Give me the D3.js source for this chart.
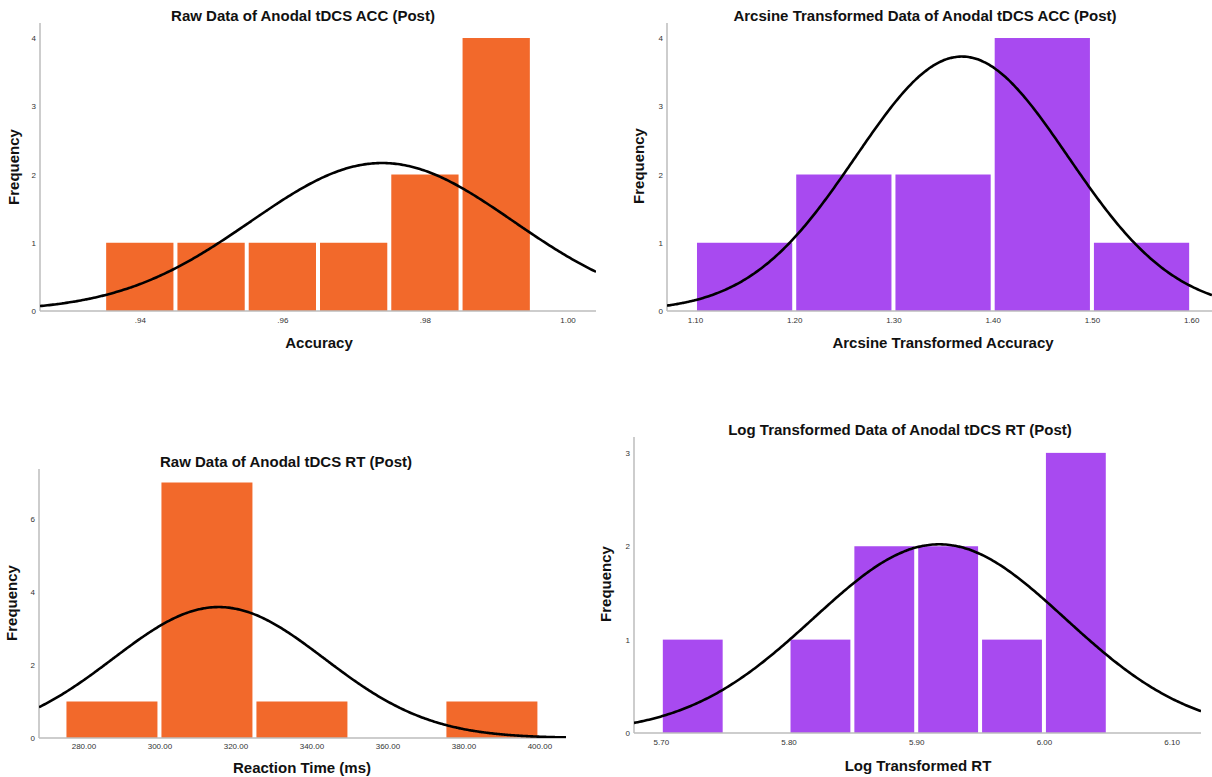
<!DOCTYPE html>
<html>
<head>
<meta charset="utf-8">
<script src="https://cdn.jsdelivr.net/npm/d3@7"></script>
<style>
  html, body { margin: 0; padding: 0; background: #fff; }
  svg { display: block; font-family: "Liberation Sans", Arial, sans-serif; }
</style>
</head>
<body>
<svg id="chart" width="1212" height="777"></svg>
<script>
// ---- Data: Anodal tDCS post-test histograms ----

// Raw accuracy
const accRawEdges = [0.935, 0.945, 0.955, 0.965, 0.975, 0.985, 0.995];
const accRawCounts = [1, 1, 1, 1, 2, 4];
const accRawTicks = [0.94, 0.96, 0.98, 1.00];
const accRawTickLabels = [".94", ".96", ".98", "1.00"];
const accRawFreqTicks = [0, 1, 2, 3, 4];
const accRawFit = [0.974, 0.0184, 10];   // mean, sd, n

// Arcsine transformed accuracy
const accArcEdges = [1.10, 1.20, 1.30, 1.40, 1.50, 1.60];
const accArcCounts = [1, 2, 2, 4, 1];
const accArcTicks = [1.10, 1.20, 1.30, 1.40, 1.50, 1.60];
const accArcTickLabels = ["1.10", "1.20", "1.30", "1.40", "1.50", "1.60"];
const accArcFreqTicks = [0, 1, 2, 3, 4];
const accArcFit = [1.369, 0.107, 10];

// Raw reaction time
const rtRawEdges = [275, 300, 325, 350, 375, 400];
const rtRawCounts = [1, 7, 1, 0, 1];
const rtRawTicks = [280, 300, 320, 340, 360, 380, 400];
const rtRawTickLabels = ["280.00", "300.00", "320.00", "340.00", "360.00", "380.00", "400.00"];
const rtRawFreqTicks = [0, 2, 4, 6];
const rtRawFit = [315.6, 27.8, 10];

// Log transformed reaction time
const rtLogEdges = [5.70, 5.75, 5.80, 5.85, 5.90, 5.95, 6.00, 6.05];
const rtLogCounts = [1, 0, 1, 2, 2, 1, 3];
const rtLogTicks = [5.70, 5.80, 5.90, 6.00, 6.10];
const rtLogTickLabels = ["5.70", "5.80", "5.90", "6.00", "6.10"];
const rtLogFreqTicks = [0, 1, 2, 3];
const rtLogFit = [5.918, 0.0987, 10];

const titles = [
  "Raw Data of Anodal tDCS ACC (Post)",
  "Arcsine Transformed Data of Anodal tDCS ACC (Post)",
  "Raw Data of Anodal tDCS RT (Post)",
  "Log Transformed Data of Anodal tDCS RT (Post)"
];
const xTitles = ["Accuracy", "Arcsine Transformed Accuracy", "Reaction Time (ms)", "Log Transformed RT"];
const yTitle = "Frequency";

// ---- Styling ----
const ORANGE = "#f2692b";
const PURPLE = "#a84af0";
const AXIS = "#bdbdbd";

// ---- Panel layout (pixel frame + visible value window) ----
const panels = [
  { edges: accRawEdges, counts: accRawCounts, ticks: accRawTicks, tickLabels: accRawTickLabels,
    yTicks: accRawFreqTicks, fit: accRawFit, color: ORANGE, title: titles[0], xTitle: xTitles[0],
    xDom: [0.926, 1.004], yDom: [0, 4.22], left: 40, right: 596, top: 23, bottom: 311,
    titleX: 303, titleY: 21, xTitleX: 319, xTitleY: 348, yTitleX: 19, yTitleY: 167, xTickY: 323 },
  { edges: accArcEdges, counts: accArcCounts, ticks: accArcTicks, tickLabels: accArcTickLabels,
    yTicks: accArcFreqTicks, fit: accArcFit, color: PURPLE, title: titles[1], xTitle: xTitles[1],
    xDom: [1.0718, 1.621], yDom: [0, 4.22], left: 667, right: 1212, top: 23, bottom: 311,
    titleX: 925, titleY: 21, xTitleX: 943, xTitleY: 348, yTitleX: 644, yTitleY: 166, xTickY: 323 },
  { edges: rtRawEdges, counts: rtRawCounts, ticks: rtRawTicks, tickLabels: rtRawTickLabels,
    yTicks: rtRawFreqTicks, fit: rtRawFit, color: ORANGE, title: titles[2], xTitle: xTitles[2],
    xDom: [268.3, 407], yDom: [0, 7.37], left: 39, right: 566, top: 469, bottom: 738,
    titleX: 286, titleY: 467, xTitleX: 302, xTitleY: 773, yTitleX: 17, yTitleY: 603, xTickY: 749 },
  { edges: rtLogEdges, counts: rtLogCounts, ticks: rtLogTicks, tickLabels: rtLogTickLabels,
    yTicks: rtLogFreqTicks, fit: rtLogFit, color: PURPLE, title: titles[3], xTitle: xTitles[3],
    xDom: [5.679, 6.123], yDom: [0, 3.17], left: 634, right: 1201, top: 437, bottom: 733,
    titleX: 900, titleY: 435, xTitleX: 918, xTitleY: 771, yTitleX: 611, yTitleY: 584, xTickY: 745 }
];

const svg = d3.select("#chart");

function normalFreq(x, fit, binWidth) {
  const [mu, sd, n] = fit;
  const z = (x - mu) / sd;
  return n * binWidth * Math.exp(-0.5 * z * z) / (sd * Math.sqrt(2 * Math.PI));
}

panels.forEach((p, i) => {
  const g = svg.append("g");
  const x = d3.scaleLinear().domain(p.xDom).range([p.left, p.right]);
  const y = d3.scaleLinear().domain(p.yDom).range([p.bottom, p.top]);

  const bins = p.counts.map((c, k) => ({ x0: p.edges[k], x1: p.edges[k + 1], count: c }));
  const binWidth = p.edges[1] - p.edges[0];

  // clip for curve
  const clipId = "clip" + i;
  svg.append("clipPath").attr("id", clipId)
    .append("rect").attr("x", p.left).attr("y", p.top)
    .attr("width", p.right - p.left).attr("height", p.bottom - p.top);

  // bars
  g.selectAll("rect.bar").data(bins.filter(b => b.count > 0)).enter()
    .append("rect").attr("class", "bar")
    .attr("x", d => x(d.x0) + 2)
    .attr("width", d => x(d.x1) - x(d.x0) - 4)
    .attr("y", d => y(d.count))
    .attr("height", d => y(0) - y(d.count))
    .attr("fill", p.color);

  // axes
  const xAxis = d3.axisBottom(x).tickValues(p.ticks)
    .tickFormat((d, k) => p.tickLabels[k]).tickSize(0).tickPadding(0);
  const xa = g.append("g").attr("transform", `translate(0,${p.bottom})`).call(xAxis);
  xa.select(".domain").remove();
  xa.selectAll("text").attr("y", p.xTickY - p.bottom).attr("dy", null)
    .attr("font-size", 8).attr("fill", "#333").attr("font-family", "Liberation Sans, Arial, sans-serif");

  const yAxis = d3.axisLeft(y).tickValues(p.yTicks).tickFormat(d3.format("d"))
    .tickSize(0).tickPadding(4);
  const ya = g.append("g").attr("transform", `translate(${p.left},0)`).call(yAxis);
  ya.select(".domain").remove();
  ya.selectAll("text").attr("font-size", 8).attr("fill", "#333")
    .attr("font-family", "Liberation Sans, Arial, sans-serif");

  // axis lines
  g.append("line").attr("x1", p.left).attr("x2", p.left)
    .attr("y1", p.top).attr("y2", p.bottom)
    .attr("stroke", AXIS).attr("stroke-width", 1.5);
  g.append("line").attr("x1", p.left).attr("x2", p.right)
    .attr("y1", p.bottom).attr("y2", p.bottom)
    .attr("stroke", AXIS).attr("stroke-width", 1.5);

  // fitted normal curve
  const xs = d3.range(0, 301).map(k => p.xDom[0] + (p.xDom[1] - p.xDom[0]) * k / 300);
  const line = d3.line().x(d => x(d)).y(d => y(normalFreq(d, p.fit, binWidth))).curve(d3.curveBasis);
  g.append("path").datum(xs).attr("d", line)
    .attr("fill", "none").attr("stroke", "#000").attr("stroke-width", 2.6)
    .attr("clip-path", `url(#${clipId})`);

  // titles
  g.append("text").attr("x", p.titleX).attr("y", p.titleY)
    .attr("text-anchor", "middle").attr("font-size", 15).attr("font-weight", "bold")
    .attr("fill", "#111").text(p.title);
  g.append("text").attr("x", p.xTitleX).attr("y", p.xTitleY)
    .attr("text-anchor", "middle").attr("font-size", 15).attr("font-weight", "bold")
    .attr("fill", "#111").text(p.xTitle);
  g.append("text")
    .attr("transform", `translate(${p.yTitleX},${p.yTitleY}) rotate(-90)`)
    .attr("text-anchor", "middle").attr("font-size", 15).attr("font-weight", "bold")
    .attr("fill", "#111").text(yTitle);
});
</script>
</body>
</html>
